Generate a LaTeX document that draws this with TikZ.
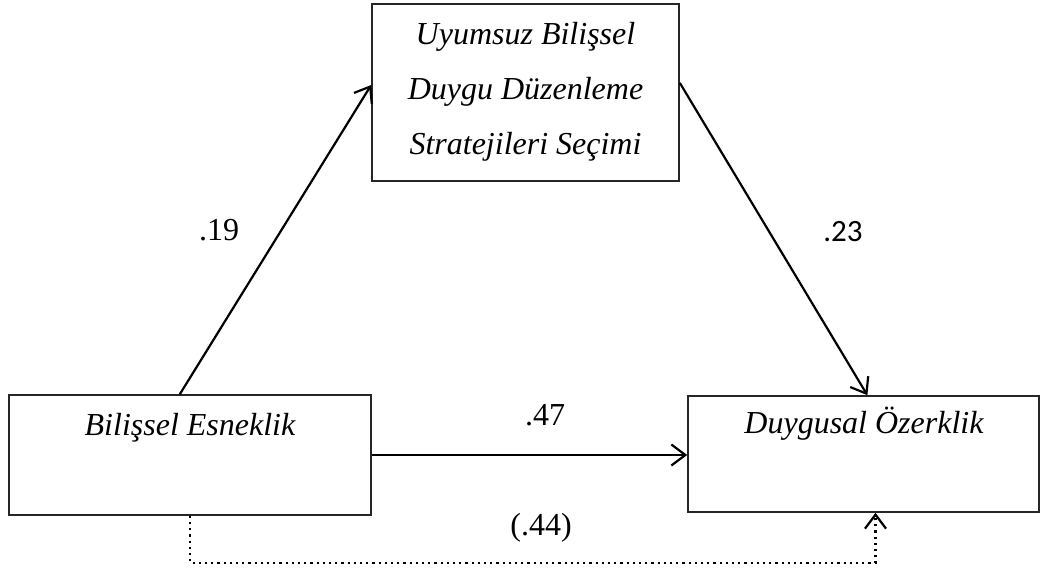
\documentclass[tikz,border=0pt]{standalone}
\usepackage{fontspec}
\setmainfont{Liberation Serif}
\newfontfamily\calib{Carlito}
\usetikzlibrary{arrows.meta,calc}
\begin{document}
\begin{tikzpicture}[x=0.5pt,y=-0.5pt,
  box/.style={draw=black!85,line width=0.8pt,rectangle,inner sep=0pt},
  txt/.style={font=\fontsize{16}{27.5}\selectfont\itshape,inner sep=0pt,anchor=base},
  num/.style={font=\fontsize{16}{18}\selectfont,inner sep=0pt,anchor=base},
  arr/.style={line width=1.1pt,-{Straight Barb[length=7pt,width=10.5pt,line width=1.1pt]}},
  dotarr/.style={line width=1.1pt,dotted,-{Straight Barb[length=7pt,width=10.5pt,line width=1.1pt]}}]
\useasboundingbox (0,0) rectangle (1040,569);
% boxes
\node[box,minimum width=153.5pt,minimum height=88.5pt] (UB) at (525.5,92.5) {};
\node[box,minimum width=181pt,minimum height=60pt] (BE) at (190,455) {};
\node[box,minimum width=175.5pt,minimum height=58pt] (DO) at (863.5,454) {};
% texts
\node[txt,align=center,anchor=center] (UBt) at (525.5,92) {Uyumsuz Bilişsel\\Duygu Düzenleme\\Stratejileri Seçimi};
\node[txt] (BEt) at (190,435) {Bilişsel Esneklik};
\node[txt] (DOt) at (864,433) {Duygusal Özerklik};
% connectors
\draw[arr] ($(BE.north west)!0.472!(BE.north east)$) -- ($(UB.north west)!0.458!(UB.south west)$);
\draw[arr] ($(UB.north east)!0.446!(UB.south east)$) -- ($(DO.north west)!0.511!(DO.north east)$);
\draw[arr] (BE.east) -- (BE.east -| DO.west);
\coordinate (d1) at ($(BE.south)+(0,47)$);
\coordinate (d3) at ($(DO.south west)!0.534!(DO.south east)$);
\draw[dotarr] (BE.south) -- (d1) -| (d3);
% labels
\node[num] (l19) at (219,240) {.19};
\node[num,font=\calib\fontsize{15.5}{18}\selectfont] (l23) at (843,241) {.23};
\node[num] (l47) at (545,425) {.47};
\node[num] (l44) at (541,535) {(.44)};
\end{tikzpicture}
\end{document}
